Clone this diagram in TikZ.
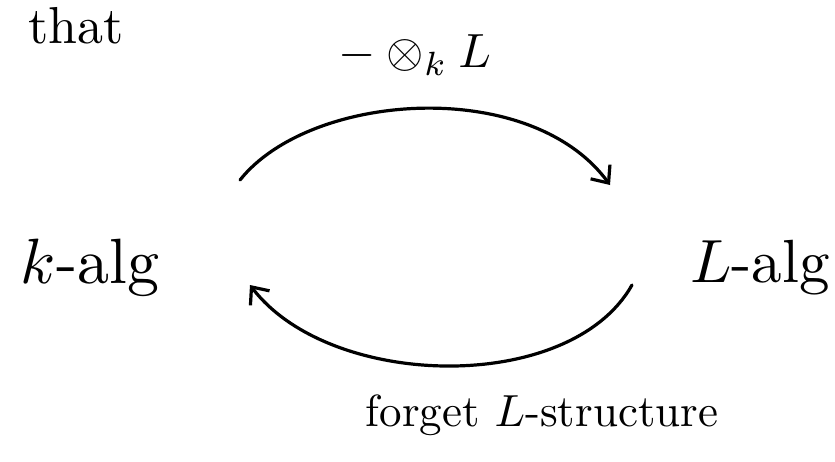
\documentclass[tikz,border=0pt]{standalone}
\usepackage{graphicx}
\usetikzlibrary{arrows.meta}
\begin{document}
\begin{tikzpicture}[x=1pt,y=-1pt,
  lbl/.style={inner sep=0pt, anchor=center},
  arc/.style={line width=3.2pt, line cap=round, -{Straight Barb[length=14pt,width=24pt,line width=3.2pt]}}]
\useasboundingbox (0,0) rectangle (835,461);
\node[lbl] (that) at (76,26) {\scalebox{5.2}{that}};
\node[lbl] (tens) at (415,55) {\scalebox{4.8}{$-\otimes_k L$}};
\node[lbl] (ka) at (90,268) {\scalebox{6.4}{$k$-alg}};
\node[lbl] (la) at (760,268) {\scalebox{6.1}{$L$-alg}};
\node[lbl] (fg) at (542,415) {\scalebox{4.5}{forget $L$-structure}};
\coordinate (a1) at (240,180);
\coordinate (b1) at (610,185);
\coordinate (b2) at (632,285);
\coordinate (a2) at (250,285);
\draw[arc] (a1) .. controls (310,92) and (530,76) .. (b1);
\draw[arc] (b2) .. controls (570,395) and (330,390) .. (a2);
\end{tikzpicture}
\end{document}
